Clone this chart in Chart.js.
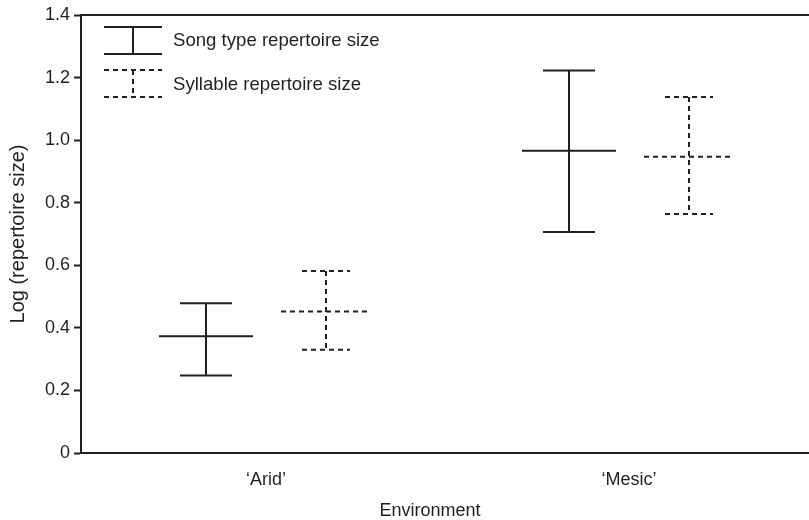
<!DOCTYPE html>
<html>
<head>
<meta charset="utf-8">
<script src="https://cdn.jsdelivr.net/npm/chart.js@4"></script>
<style>
  html, body { margin: 0; padding: 0; background: #ffffff; }
  #wrap { width: 809px; height: 520px; }
</style>
</head>
<body>
<div id="wrap"><canvas id="c" width="809" height="520"></canvas></div>
<script>
// ---- data ----
const categories = ["\u2018Arid\u2019", "\u2018Mesic\u2019"];
const seriesNames = ["Song type repertoire size", "Syllable repertoire size"];
const songMean = [0.373, 0.966];
const songLow  = [0.248, 0.706];
const songHigh = [0.479, 1.223];
const sylMean  = [0.452, 0.947];
const sylLow   = [0.330, 0.764];
const sylHigh  = [0.582, 1.138];
const yTickValues = [0, 0.2, 0.4, 0.6, 0.8, 1.0, 1.2, 1.4];

// ---- styles ----
const INK = '#231f20';
const FONT = "'Liberation Sans', Arial, Helvetica, sans-serif";
const styles = [
  { offset: -60, capHalf: 26, meanHalf: 47, dash: [] },
  { offset: 60,  capHalf: 24, meanHalf: 45, dash: [5, 4] }
];

function pts(mean) { return mean.map((m, i) => ({ x: i, y: m })); }

const errorBarPlugin = {
  id: 'errorBars',
  afterDatasetsDraw(chart) {
    const { ctx, scales } = chart;
    const xs = scales.x, ys = scales.y;
    chart.data.datasets.forEach((ds, di) => {
      const st = styles[di];
      ctx.save();
      ctx.strokeStyle = INK;
      ctx.lineWidth = 2;
      ctx.setLineDash(st.dash);
      ds.data.forEach((p, i) => {
        const cx = Math.round(xs.getPixelForValue(p.x) + st.offset);
        const ym = ys.getPixelForValue(p.y);
        const yl = ys.getPixelForValue(ds.low[i]);
        const yh = ys.getPixelForValue(ds.high[i]);
        ctx.beginPath();
        ctx.moveTo(cx, yh); ctx.lineTo(cx, yl);
        ctx.moveTo(cx - st.capHalf, yh); ctx.lineTo(cx + st.capHalf, yh);
        ctx.moveTo(cx - st.capHalf, yl); ctx.lineTo(cx + st.capHalf, yl);
        ctx.moveTo(cx - st.meanHalf, ym); ctx.lineTo(cx + st.meanHalf, ym);
        ctx.stroke();
      });
      ctx.restore();
    });
  }
};

// top and bottom frame lines run to the right edge of the canvas
const framePlugin = {
  id: 'frameLines',
  afterDraw(chart) {
    const { ctx, chartArea, width } = chart;
    const yb = Math.round(chartArea.bottom);
    ctx.save();
    ctx.strokeStyle = INK;
    ctx.lineWidth = 2;
    ctx.beginPath();
    ctx.moveTo(chartArea.left - 1, chartArea.top);
    ctx.lineTo(width, chartArea.top);
    ctx.moveTo(chartArea.right - 2, yb);
    ctx.lineTo(width, yb);
    ctx.stroke();
    ctx.restore();
  }
};

const legendPlugin = {
  id: 'inlineLegend',
  afterDraw(chart) {
    const { ctx, chartArea } = chart;
    const L = chartArea.left;
    const T = chartArea.top;
    const items = [
      { top: T + 12, bot: T + 39, textY: T + 26 },
      { top: T + 55, bot: T + 82, textY: T + 70 }
    ];
    ctx.save();
    chart.data.datasets.forEach((ds, di) => {
      const it = items[di];
      const cx = L + 52;
      ctx.strokeStyle = INK;
      ctx.lineWidth = 2;
      ctx.setLineDash(styles[di].dash);
      ctx.beginPath();
      ctx.moveTo(L + 23, it.top); ctx.lineTo(L + 81, it.top);
      ctx.moveTo(cx, it.top); ctx.lineTo(cx, it.bot);
      ctx.moveTo(L + 23, it.bot); ctx.lineTo(L + 81, it.bot);
      ctx.stroke();
      ctx.setLineDash([]);
      ctx.fillStyle = INK;
      ctx.font = '18.6px ' + FONT;
      ctx.textBaseline = 'middle';
      ctx.textAlign = 'left';
      ctx.fillText(ds.label, L + 92, it.textY);
    });
    ctx.restore();
  }
};

new Chart(document.getElementById('c'), {
  type: 'scatter',
  data: {
    datasets: [
      { label: seriesNames[0], data: pts(songMean), low: songLow, high: songHigh,
        pointRadius: 0, showLine: false },
      { label: seriesNames[1], data: pts(sylMean), low: sylLow, high: sylHigh,
        pointRadius: 0, showLine: false }
    ]
  },
  options: {
    responsive: false,
    animation: false,
    events: [],
    layout: { padding: { top: 15, right: 30, left: 0, bottom: 0 } },
    plugins: { legend: { display: false }, tooltip: { enabled: false } },
    scales: {
      x: {
        type: 'linear',
        min: -0.5096,
        max: 1.4132,
        afterFit(s) { s.height = 67; },
        afterBuildTicks(s) { s.ticks = categories.map((c, i) => ({ value: i })); },
        grid: { display: false },
        border: { display: true, color: INK, width: 2 },
        ticks: {
          color: INK,
          font: { family: FONT, size: 18 },
          padding: 8,
          maxRotation: 0,
          callback: (v) => categories[v]
        },
        title: {
          display: true,
          text: 'Environment',
          color: INK,
          font: { family: FONT, size: 18, lineHeight: 1 },
          padding: { top: 0, bottom: 0 }
        }
      },
      y: {
        min: 0,
        max: 1.4,
        afterFit(s) { s.width = 81; },
        afterBuildTicks(s) { s.ticks = yTickValues.map(v => ({ value: v })); },
        grid: {
          display: true,
          drawOnChartArea: false,
          drawTicks: true,
          tickLength: 7,
          tickWidth: 2,
          tickColor: INK
        },
        border: { display: true, color: INK, width: 2 },
        ticks: {
          color: INK,
          font: { family: FONT, size: 18 },
          padding: 4,
          callback: (v) => (v === 0 ? '0' : Number(v).toFixed(1))
        },
        title: {
          display: true,
          text: 'Log (repertoire size)',
          color: INK,
          font: { family: FONT, size: 20 },
          padding: { top: 6, bottom: 0 }
        }
      }
    }
  },
  plugins: [errorBarPlugin, framePlugin, legendPlugin]
});
</script>
</body>
</html>
